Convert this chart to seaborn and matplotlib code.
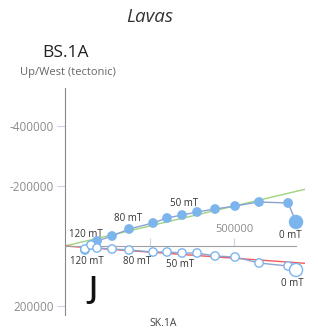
import matplotlib
matplotlib.use("Agg")
import matplotlib.pyplot as plt
import seaborn as sns
import pandas as pd

# Zijderveld data (SK.1A horizontal, BS.1A vertical, axis inverted)
steps = ["120 mT", "", "", "", "80 mT", "", "", "50 mT", "", "", "", "", "", "0 mT"]
east = [59000, 77000, 94700, 139000, 189400, 260400, 301800, 346200, 390600,
        443900, 503000, 574000, 659900, 683500]
north = [13300, -3300, -16700, -33300, -56700, -76700, -93300, -103300, -113300,
         -123300, -133300, -146700, -143300, -80000]
up = [10000, -3300, 6700, 10000, 13300, 20000, 20000, 23300, 23300,
      33300, 36700, 56700, 66700, 80000]

# PCA fit lines (from origin)
fit_x = [0, 710000]
fit_h = [0, -189000]
fit_v = [0, 57700]

df = pd.DataFrame({"east": east, "north": north, "up": up, "step": steps})

plt.rcParams["font.family"] = ["Open Sans", "DejaVu Sans"]
plt.rcParams["axes.unicode_minus"] = False

W, H = 318, 329
fig = plt.figure(figsize=(W / 100, H / 100), dpi=100)
ax = fig.add_axes([65 / W, 1 - 315 / H, 240 / W, (315 - 88) / H])

blue = "#7cb5ec"
line_col = "#8aa3d0"

sns.lineplot(x=fit_x, y=fit_h, ax=ax, color="#9ed47e", lw=1, sort=False)
sns.lineplot(x=fit_x, y=fit_v, ax=ax, color="#f25a5a", lw=1, sort=False)

sns.lineplot(data=df, x="east", y="north", ax=ax, color=line_col, lw=1, sort=False)
sns.lineplot(data=df, x="east", y="up", ax=ax, color=line_col, lw=1, sort=False)

sizes = [88 if s == "0 mT" else 36 for s in steps]
sns.scatterplot(data=df, x="east", y="north", ax=ax, s=sizes, color=blue,
                edgecolor=blue, linewidth=1, zorder=5, clip_on=False, legend=False)
sns.scatterplot(data=df, x="east", y="up", ax=ax, s=sizes, color="white",
                edgecolor=blue, linewidth=1, zorder=5, clip_on=False, legend=False)

# step labels: offsets in points for the horizontal (upper) and vertical (lower) labels
off_h = {"120 mT": (0.5, 11.5), "80 mT": (-0.7, 7.2), "50 mT": (1.4, 8), "0 mT": (-4.3, -10)}
off_v = {"120 mT": (1.2, -9.1), "80 mT": (5.8, -8.4), "50 mT": (-1.4, -8), "0 mT": (-3, -10)}
for i, s in enumerate(steps):
    if not s:
        continue
    ax.annotate(s, (east[i], north[i]), xytext=off_h[s], textcoords="offset points",
                ha="center", va="center", fontsize=7, color="#333333")
    ax.annotate(s, (east[i], up[i]), xytext=off_v[s], textcoords="offset points",
                ha="center", va="center", fontsize=7, color="#333333")

ax.set_xlim(0, 710000)
ax.set_ylim(230000, -526600)

for sp in ["right", "bottom"]:
    ax.spines[sp].set_visible(False)
ax.spines["left"].set_color("#888888")
ax.spines["top"].set_position(("data", 0))
ax.spines["top"].set_bounds(0, 683500)
ax.spines["top"].set_color("#a0a0a0")

ax.xaxis.tick_top()
ax.set_xticks([250000, 500000])
ax.set_xticklabels(["", "500000"])
ax.tick_params(axis="x", direction="out", length=6, color="#ccd6eb",
               labelsize=8, labelcolor="#8c8c8c", pad=2)
ax.set_yticks([-400000, -200000, 200000])
ax.set_yticklabels(["-400000", "-200000", "200000"])
ax.tick_params(axis="y", direction="out", length=6, color="#ccd6eb",
               labelsize=8.5, labelcolor="#8c8c8c", pad=2)
ax.set_xlabel("")
ax.set_ylabel("")

fig.text(149.5 / W, 1 - 17 / H, "Lavas", ha="center", va="center", fontsize=13.5,
         style="italic", color="#333333")
fig.text(66 / W, 1 - 53 / H, "BS.1A", ha="center", va="center", fontsize=12.5,
         color="#222222")
fig.text(68 / W, 1 - 73 / H, "Up/West (tectonic)", ha="center", va="center",
         fontsize=8, color="#666666")
fig.text(163 / W, 1 - 323 / H, "SK.1A", ha="center", va="center", fontsize=7.5,
         color="#444444")
fig.text(93 / W, 1 - 290 / H, "J", ha="center", va="center", fontsize=22,
         fontweight="semibold", color="#111111")

fig.savefig("out.png", dpi=100)
